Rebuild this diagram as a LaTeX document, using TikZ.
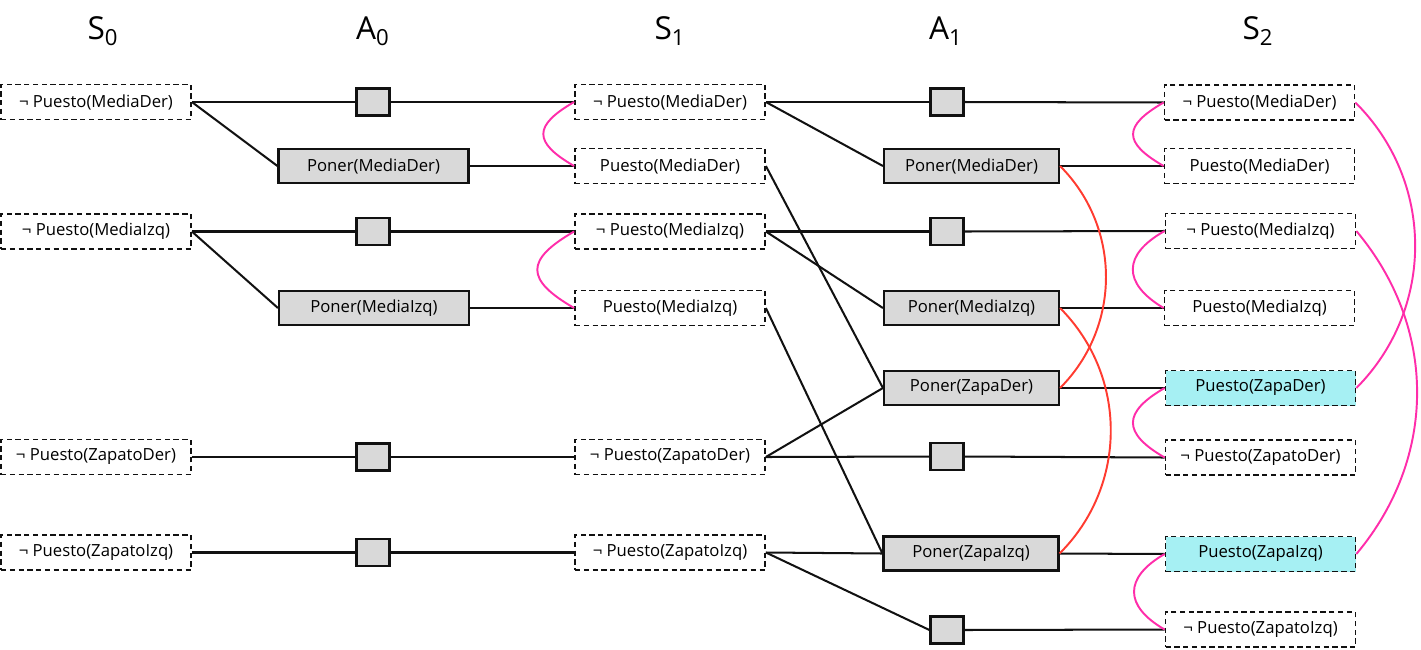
\documentclass[tikz,border=0pt]{standalone}
\usepackage{fontspec}
\setmainfont{Open Sans}
\usepackage{tikz}
\usetikzlibrary{positioning}
\definecolor{ink}     {HTML}{111111}
\definecolor{actbg}   {HTML}{D9D9D9}
\definecolor{goalbg}  {HTML}{A6F0F3}
\definecolor{mutexpk} {HTML}{FF2DAA}
\definecolor{mutexrd} {HTML}{FF3B30}
\tikzset{
  fact/.style     ={draw=ink, fill=white, line width=1pt,
                    dash pattern=on 3pt off 2pt,
                    minimum width=3.8cm, minimum height=0.7cm,
                    font=\fontsize{9.5}{11}\selectfont, inner sep=2pt},
  goal/.style     ={fact, fill=goalbg},
  act/.style      ={draw=ink, fill=actbg, line width=1.2pt,
                    minimum width=3.8cm, minimum height=0.68cm,
                    font=\fontsize{9.5}{11}\selectfont, inner sep=2pt},
  noop/.style     ={draw=ink, fill=actbg, line width=1.2pt,
                    minimum width=0.66cm, minimum height=0.54cm, inner sep=0pt},
  link/.style     ={draw=ink, line width=1.15pt},
  pmutex/.style   ={draw=mutexpk, line width=1.1pt},
  rmutex/.style   ={draw=mutexrd, line width=1.1pt},
  colhead/.style  ={font=\fontsize{18}{20}\selectfont},
}
\begin{document}
\begin{tikzpicture}[x=1cm,y=1cm]
  \useasboundingbox (0,0) rectangle (28.42,-12.98);

  \node[colhead] (h0) at (2.06,-0.62)  {S\textsubscript{0}};
  \node[colhead] (h1) at (7.46,-0.62)  {A\textsubscript{0}};
  \node[colhead] (h2) at (13.4,-0.62)  {S\textsubscript{1}};
  \node[colhead] (h3) at (18.92,-0.62) {A\textsubscript{1}};
  \node[colhead] (h4) at (25.16,-0.62) {S\textsubscript{2}};

  \node[fact] (s0nmd) at (1.92,-2.04)  {¬ Puesto(MediaDer)};
  \node[fact] (s0nmi) at (1.92,-4.63)  {¬ Puesto(MediaIzq)};
  \node[fact] (s0nzd) at (1.92,-9.14)  {¬ Puesto(ZapatoDer)};
  \node[fact] (s0nzi) at (1.92,-11.05) {¬ Puesto(ZapatoIzq)};

  \node[noop] (n0md) at (7.46,-2.04)  {};
  \node[noop] (n0mi) at (7.46,-4.63)  {};
  \node[noop] (n0zd) at (7.46,-9.14)  {};
  \node[noop] (n0zi) at (7.46,-11.05) {};
  \node[act] (p0md) at (7.47,-3.32) {Poner(MediaDer)};
  \node[act] (p0mi) at (7.48,-6.16) {Poner(MediaIzq)};

  \node[fact] (s1nmd) at (13.4,-2.04)  {¬ Puesto(MediaDer)};
  \node[fact] (s1md)  at (13.4,-3.32)  {Puesto(MediaDer)};
  \node[fact] (s1nmi) at (13.4,-4.63)  {¬ Puesto(MediaIzq)};
  \node[fact] (s1mi)  at (13.4,-6.16)  {Puesto(MediaIzq)};
  \node[fact] (s1nzd) at (13.4,-9.14)  {¬ Puesto(ZapatoDer)};
  \node[fact] (s1nzi) at (13.4,-11.05) {¬ Puesto(ZapatoIzq)};

  \node[noop] (n1md) at (18.94,-2.04)  {};
  \node[noop] (n1mi) at (18.94,-4.63)  {};
  \node[noop] (n1zd) at (18.94,-9.13)  {};
  \node[noop] (n1zi) at (18.94,-12.6)  {};
  \node[act,minimum width=3.5cm] (p1md) at (19.43,-3.32)  {Poner(MediaDer)};
  \node[act,minimum width=3.5cm] (p1mi) at (19.43,-6.16)  {Poner(MediaIzq)};
  \node[act,minimum width=3.5cm] (p1zd) at (19.43,-7.76)  {Poner(ZapaDer)};
  \node[act,minimum width=3.5cm] (p1zi) at (19.42,-11.07) {Poner(ZapaIzq)};

  \node[fact] (s2nmd) at (25.19,-2.05)  {¬ Puesto(MediaDer)};
  \node[fact] (s2md)  at (25.19,-3.32)  {Puesto(MediaDer)};
  \node[fact] (s2nmi) at (25.21,-4.62)  {¬ Puesto(MediaIzq)};
  \node[fact] (s2mi)  at (25.19,-6.16)  {Puesto(MediaIzq)};
  \node[goal] (s2zd)  at (25.21,-7.76)  {Puesto(ZapaDer)};
  \node[fact] (s2nzd) at (25.21,-9.15)  {¬ Puesto(ZapatoDer)};
  \node[goal] (s2zi)  at (25.21,-11.08) {Puesto(ZapaIzq)};
  \node[fact] (s2nzi) at (25.21,-12.59) {¬ Puesto(ZapatoIzq)};

  \draw[link] (s0nmd.east) -- (n0md.west);
  \draw[link] (n0md.east) -- (s1nmd.west);
  \draw[link] (s0nmd.east) -- (p0md.west);
  \draw[link] (p0md.east) -- (s1md.west);
  \draw[link] (s0nmi.east) -- (n0mi.west);
  \draw[link] (n0mi.east) -- (s1nmi.west);
  \draw[link] (s0nmi.east) -- (p0mi.west);
  \draw[link] (p0mi.east) -- (s1mi.west);
  \draw[link] (s0nzd.east) -- (n0zd.west);
  \draw[link] (n0zd.east) -- (s1nzd.west);
  \draw[link] (s0nzi.east) -- (n0zi.west);
  \draw[link] (n0zi.east) -- (s1nzi.west);

  \draw[link] (s1nmd.east) -- (n1md.west);
  \draw[link] (n1md.east) -- (s2nmd.west);
  \draw[link] (s1nmd.east) -- (p1md.west);
  \draw[link] (p1md.east) -- (s2md.west);
  \draw[link] (s1md.east) -- (p1zd.west);
  \draw[link] (s1nmi.east) -- (n1mi.west);
  \draw[link] (n1mi.east) -- (s2nmi.west);
  \draw[link] (s1nmi.east) -- (p1mi.west);
  \draw[link] (p1mi.east) -- (s2mi.west);
  \draw[link] (s1mi.east) -- (p1zi.west);
  \draw[link] (s1nzd.east) -- (p1zd.west);
  \draw[link] (p1zd.east) -- (s2zd.west);
  \draw[link] (s1nzd.east) -- (n1zd.west);
  \draw[link] (n1zd.east) -- (s2nzd.west);
  \draw[link] (s1nzi.east) -- (p1zi.west);
  \draw[link] (p1zi.east) -- (s2zi.west);
  \draw[link] (s1nzi.east) -- (n1zi.west);
  \draw[link] (n1zi.east) -- (s2nzi.west);

  \draw[pmutex] (s1nmd.west) to[bend right=60,looseness=1.9] (s1md.west);
  \draw[pmutex] (s1nmi.west) to[bend right=60,looseness=1.9] (s1mi.west);
  \draw[pmutex] (s2nmd.west) to[bend right=60,looseness=1.9] (s2md.west);
  \draw[pmutex] (s2nmi.west) to[bend right=60,looseness=1.6] (s2mi.west);
  \draw[pmutex] (s2zd.west) to[bend right=60,looseness=1.8] (s2nzd.west);
  \draw[pmutex] (s2zi.west) to[bend right=60,looseness=1.6] (s2nzi.west);
  \draw[pmutex] (s2nmd.east) to[bend left=45] (s2zd.east);
  \draw[pmutex] (s2nmi.east) to[bend left=40] (s2zi.east);

  \draw[rmutex] (p1md.east) to[bend left=45] (p1zd.east);
  \draw[rmutex] (p1mi.east) to[bend left=45] (p1zi.east);
\end{tikzpicture}
\end{document}
